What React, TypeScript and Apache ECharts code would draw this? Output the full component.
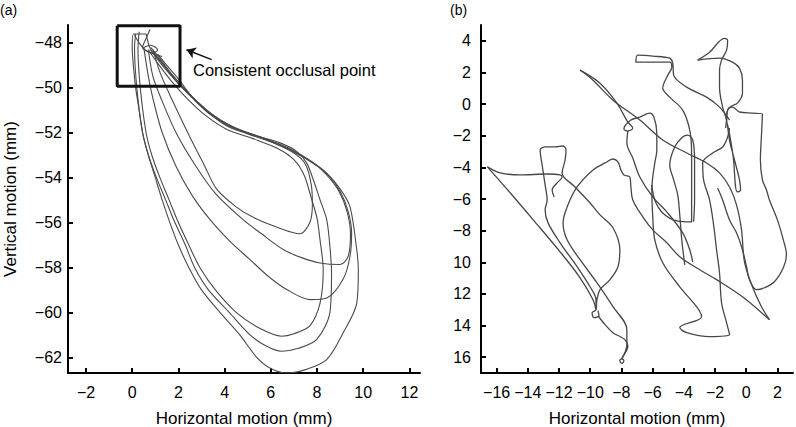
import React, { useEffect, useRef } from "react";
import * as echarts from "echarts";

// ---------- Panel (a): chewing cycles (horizontal mm, vertical mm) ----------
const loopA = [[0.6,-47.6],[0.05,-47.6],[0.0,-48.2],[0.05,-49],[0.15,-50],[0.3,-51],[0.45,-52],[0.7,-53],[1.0,-54],[1.3,-55],[1.63,-56],[2.0,-57],[2.45,-58],[3.0,-59],[3.8,-60],[4.66,-61],[5.39,-62],[6.0,-62.5],[6.7,-62.7],[7.5,-62.55],[8.42,-62.1],[9.14,-60.9],[9.72,-59.6],[9.79,-58.1],[9.72,-57.2],[9.43,-55.3],[9.0,-54.5],[8.42,-53.8],[7.84,-53.35],[6.83,-52.75],[5.5,-52.2],[4.3,-51.75],[3.3,-51.1],[2.5,-50.3],[1.8,-49.5],[1.2,-48.8],[0.8,-48.3],[0.6,-47.6]];
const loopB = [[0.15,-47.6],[0.1,-48.2],[0.2,-50],[0.45,-52],[0.7,-53],[1.05,-54],[1.45,-55],[1.85,-56],[2.3,-57],[2.7,-58],[3.3,-59],[4.2,-60],[5.1,-61],[5.8,-61.5],[6.47,-61.73],[7.2,-61.6],[7.99,-61.2],[8.56,-60],[8.63,-58.24],[8.56,-57.07],[8.42,-55.87],[8.13,-54.98],[7.84,-54.09],[7.55,-53.34],[7.12,-52.83],[6.4,-52.45],[5.3,-52.1],[4.2,-51.65],[3.3,-51.05],[2.5,-50.3],[1.8,-49.5],[1.2,-48.7],[0.8,-48.2]];
const loopC = [[0.3,-47.5],[0.25,-48.3],[0.35,-50],[0.6,-52],[0.85,-53],[1.2,-54],[1.6,-55],[2.0,-56],[2.45,-57],[2.93,-58],[3.6,-59],[4.5,-60],[5.5,-60.7],[6.47,-61.06],[7.0,-60.95],[7.69,-60.6],[8.13,-59.6],[8.27,-58.1],[8.13,-56.76],[8.0,-55.8],[7.75,-54.9],[7.45,-53.9],[7.0,-53.2],[6.3,-52.7],[5.2,-52.25],[4.1,-51.85],[3.2,-51.25],[2.4,-50.5],[1.7,-49.7],[1.1,-48.9],[0.7,-48.3]];
const loopD = [[0.5,-48.2],[0.7,-49.5],[0.91,-50.53],[1.3,-52],[1.9,-53.5],[2.6,-54.8],[3.37,-55.87],[4.2,-56.8],[5.1,-57.65],[5.9,-58.4],[6.69,-58.98],[7.69,-59.43],[8.42,-59.36],[9.14,-58.5],[9.43,-57.5],[9.5,-56.46],[9.35,-55.5],[9.0,-54.6],[8.5,-53.9],[7.9,-53.4],[6.9,-52.8],[5.8,-52.3],[4.6,-51.85],[3.6,-51.3],[2.8,-50.6],[2.0,-49.8],[1.3,-49.0],[0.8,-48.3]];
const loopE = [[0.7,-48.3],[0.9,-49.5],[1.3,-50.6],[1.9,-52],[2.7,-53.4],[3.6,-54.7],[4.8,-55.87],[5.6,-56.5],[6.54,-57.2],[7.3,-57.55],[8.13,-57.8],[9.0,-57.87],[9.35,-57.5],[9.45,-56.5],[9.3,-55.5],[8.95,-54.6],[8.4,-53.85],[7.8,-53.3],[6.7,-52.65],[5.6,-52.2],[4.4,-51.8],[3.4,-51.2],[2.6,-50.45],[1.9,-49.7],[1.3,-48.9],[0.9,-48.4]];
const loopF = [[0.9,-48.3],[1.2,-49.3],[1.71,-50.5],[2.5,-52.2],[3.1,-53.4],[3.65,-54.5],[4.5,-55.3],[5.3,-55.8],[6.25,-56.2],[7.26,-56.5],[7.69,-56.0],[7.8,-55.2],[7.75,-54.3],[7.5,-53.4],[7.0,-52.9],[6.0,-52.4],[5.0,-52.05],[4.1,-51.7],[3.3,-51.1],[2.6,-50.4],[2.0,-49.6],[1.5,-49.0],[1.1,-48.5]];
const zigA = [[0.1,-47.65],[0.3,-48.0],[0.55,-48.3],[0.9,-48.45],[1.1,-48.3],[0.8,-48.1],[0.5,-48.2]];
const zigB = [[0.77,-47.4],[0.6,-47.8],[0.45,-48.2],[0.7,-48.4],[1.3,-48.6]];
const boxA = [[-0.65,-47.23],[2.07,-47.23],[2.07,-49.93],[-0.65,-49.93],[-0.65,-47.23]];
const arrowA = [[3.44,-48.74],[2.35,-48.3]];

const xTicksA = [-2,0,2,4,6,8,10,12];
const yTicksA = [-62,-60,-58,-56,-54,-52,-50,-48];

// ---------- Panel (b): irregular path ----------
const pathB1 = [[-16.59,-3.97],[-15.76,-4.35],[-14.49,-4.48],[-12.76,-4.42],[-11.93,-4.48],[-11.80,-4.61],[-12.12,-4.98],[-12.44,-5.43],[-12.31,-5.87]];
const pathB2 = [[-16.59,-3.97],[-15.12,-5.62],[-13.65,-7.32],[-11.93,-9.34],[-10.65,-10.98],[-9.82,-12.37],[-9.63,-13.00]];
const pathB3 = [[-9.63,-13.00],[-9.63,-12.37],[-10.01,-11.55],[-10.84,-10.28],[-11.93,-8.77],[-12.70,-7.51],[-12.89,-6.69],[-12.76,-6.06],[-12.89,-5.11],[-13.08,-3.85],[-13.21,-2.90],[-12.89,-2.71],[-12.25,-2.71],[-11.74,-2.65],[-11.55,-2.90],[-11.61,-3.53],[-11.80,-4.35],[-10.97,-5.24],[-10.01,-6.25],[-9.37,-7.00],[-8.54,-7.82],[-8.10,-9.21],[-8.22,-10.28],[-8.73,-11.10],[-9.37,-11.73],[-9.57,-12.37],[-9.63,-13.00],[-9.88,-13.19],[-9.76,-13.50],[-9.44,-13.38],[-9.50,-13.06]];
const pathB4 = [[-9.50,-13.38],[-9.05,-13.94],[-8.54,-14.45],[-7.78,-14.89],[-7.59,-15.33],[-7.90,-15.96],[-7.97,-16.09],[-8.10,-16.21],[-7.97,-16.40],[-7.84,-16.21],[-7.97,-16.09]];
const pathB5 = [[-7.97,-16.09],[-7.65,-15.21],[-7.65,-14.26],[-8.54,-12.81],[-9.57,-11.29],[-10.65,-9.84],[-11.48,-8.58],[-11.74,-7.51],[-11.48,-6.50],[-10.84,-5.24],[-9.82,-4.16],[-9.05,-3.72],[-8.54,-3.47],[-8.22,-3.66],[-8.03,-4.16],[-7.84,-4.48],[-7.46,-4.61],[-7.39,-5.24],[-7.27,-6.06],[-6.63,-7.13],[-5.99,-7.95],[-5.09,-8.77],[-4.26,-9.65],[-2.98,-10.47],[-1.90,-11.10],[-0.24,-12.18],[1.49,-13.63]];
const pathB6 = [[-6.05,-5.11],[-5.86,-6.06],[-5.35,-6.88],[-4.45,-7.38],[-3.50,-7.44],[-3.50,-6.69],[-3.50,-5.43],[-3.50,-3.09],[-3.62,-1.64],[-4.07,-0.38],[-4.90,0.44],[-5.35,1.01],[-5.03,1.83],[-4.77,2.33],[-4.90,2.65],[-5.99,2.65],[-7.07,2.65],[-6.95,3.09],[-5.99,3.03],[-4.90,2.90],[-4.71,2.59],[-4.65,1.83],[-3.81,1.07],[-2.54,0.44],[-1.71,-0.19],[-1.07,-1.01]];
const pathB7 = [[-3.11,2.78],[-2.35,3.28],[-1.39,4.16],[-1.19,4.04],[-1.26,3.41],[-1.58,2.78],[-1.71,2.15],[-1.71,1.07],[-1.51,-0.19],[-1.26,-1.01],[-1.07,-2.27],[-0.75,-3.53],[-0.43,-4.79],[-0.36,-5.43],[-0.56,-5.55],[-0.68,-5.24],[-0.81,-3.53],[-1.00,-2.27],[-1.19,-1.32]];
const pathB8 = [[-3.11,2.78],[-1.71,2.90],[-0.88,2.65],[-0.43,2.27],[-0.24,1.51],[-0.24,0.69],[-0.56,0.06],[-0.94,-0.13],[-1.19,-0.38],[-1.26,-1.01],[-1.32,-1.51]];
const pathB9 = [[-1.26,-1.01],[-1.19,-0.38],[-0.94,-0.19],[-0.75,-0.25],[-0.43,-0.50],[0.40,-0.57],[1.04,-0.63],[0.98,-1.96],[0.91,-3.53],[1.04,-4.79],[1.30,-5.43],[1.49,-6.06],[2.00,-7.32],[2.38,-8.58],[2.58,-9.53],[2.38,-10.35],[1.81,-11.23],[1.17,-11.61],[0.66,-11.73],[0.21,-11.10],[0.02,-10.28],[-0.24,-9.21],[-0.62,-8.14],[-1.07,-7.32],[-1.51,-6.06],[-1.83,-5.30]];
const pathB10 = [[-10.65,2.15],[-9.37,1.32],[-8.29,0.06],[-7.59,-1.14],[-7.27,-1.51],[-7.59,-1.70],[-7.84,-1.58],[-7.39,-1.01],[-6.82,-0.82],[-6.18,-0.57],[-5.92,-0.82],[-5.73,-1.83],[-5.73,-2.90],[-5.86,-3.72],[-5.99,-4.61],[-6.05,-5.43],[-5.99,-7.13],[-5.86,-8.58],[-5.35,-10.03],[-4.26,-11.55],[-3.18,-12.81],[-2.86,-13.44],[-4.26,-14.13],[-3.81,-14.45],[-2.35,-14.70],[-1.07,-14.57],[-1.26,-13.82],[-1.58,-12.56],[-1.71,-10.66],[-1.90,-9.21],[-2.09,-7.63],[-2.35,-6.06],[-2.73,-4.79],[-2.79,-3.72],[-2.15,-3.09],[-1.51,-2.71],[-1.19,-2.08],[-1.07,-1.51]];
const pathB11 = [[-10.65,2.15],[-9.82,1.51],[-8.54,0.25],[-6.82,-1.01],[-5.35,-2.27],[-3.81,-3.09],[-2.54,-3.72],[-1.71,-4.35],[-1.07,-5.24],[-0.62,-6.37],[-0.30,-7.95],[-0.11,-9.97],[0.40,-11.55],[0.98,-12.81],[1.49,-13.63]];
const pathB12 = [[-3.94,-10.16],[-4.13,-8.58],[-4.26,-7.00],[-4.39,-5.74],[-4.65,-4.79],[-4.90,-3.85],[-4.58,-2.71],[-4.07,-2.08],[-3.75,-1.96],[-3.43,-2.27],[-3.31,-3.53],[-3.31,-6.06],[-3.37,-7.44]];
const pathB13 = [[-7.59,-1.70],[-7.65,-2.46],[-7.27,-3.41],[-6.82,-4.61],[-5.99,-5.87],[-5.09,-6.81],[-4.07,-8.14],[-3.62,-9.21],[-3.43,-9.97]];

const xTicksB = [-16,-14,-12,-10,-8,-6,-4,-2,0,2];
const yTicksB = [-16,-14,-12,-10,-8,-6,-4,-2,0,2,4];

const FONT = "'Liberation Sans', Arial, sans-serif";
const minus = (v: number) => (v < 0 ? "\u2212" + Math.abs(v) : String(v));
const yLabelB = (v: number) => (v <= -10 ? String(Math.abs(v)) : minus(v));

export default function App() {
  const ref = useRef<HTMLDivElement>(null);
  useEffect(() => {
    if (!ref.current) return;
    const chart = echarts.init(ref.current, null, { renderer: "svg" });
    const axisCommon = {
      axisLine: { onZero: false, lineStyle: { color: "#000", width: 2 } },
      axisTick: { inside: true, length: 5, lineStyle: { color: "#000", width: 2 } },
      splitLine: { show: false },
      nameTextStyle: { fontSize: 17, fontFamily: FONT, color: "#000" },
    };
    const lineA = (data: number[][]) => ({
      type: "line", xAxisIndex: 0, yAxisIndex: 0, data, showSymbol: false, symbol: "none",
      smooth: 0.3, lineStyle: { color: "#4a4a4a", width: 1.1 }, silent: true,
    });
    const lineB = (data: number[][]) => ({
      type: "line", xAxisIndex: 1, yAxisIndex: 1, data, showSymbol: false, symbol: "none",
      smooth: 0.35, lineStyle: { color: "#474747", width: 1.3 }, silent: true,
    });
    chart.setOption({
      animation: false,
      grid: [
        { left: 68, top: 25, width: 352, height: 348, containLabel: false, outerBoundsMode: "none" },
        { left: 481, top: 25, width: 312, height: 348, containLabel: false, outerBoundsMode: "none" },
      ],
      xAxis: [
        {
          type: "value", gridIndex: 0, min: -2.78, max: 12.46, ...axisCommon,
          axisTick: { ...axisCommon.axisTick, customValues: xTicksA },
          axisLabel: { customValues: xTicksA, formatter: minus, fontSize: 16, fontFamily: FONT, color: "#000", margin: 11 },
          name: "Horizontal motion (mm)", nameLocation: "middle", nameGap: 37,
        },
        {
          type: "value", gridIndex: 1, min: -17, max: 3, ...axisCommon,
          axisTick: { ...axisCommon.axisTick, customValues: xTicksB },
          axisLabel: { customValues: xTicksB, formatter: minus, fontSize: 16, fontFamily: FONT, color: "#000", margin: 11 },
          name: "Horizontal motion (mm)", nameLocation: "middle", nameGap: 37,
        },
      ],
      yAxis: [
        {
          type: "value", gridIndex: 0, min: -62.7, max: -47.2, ...axisCommon,
          axisTick: { ...axisCommon.axisTick, customValues: yTicksA },
          axisLabel: { customValues: yTicksA, formatter: minus, fontSize: 16, fontFamily: FONT, color: "#000", margin: 6 },
          name: "Vertical motion (mm)", nameLocation: "middle", nameGap: 49, nameRotate: 90,
        },
        {
          type: "value", gridIndex: 1, min: -17, max: 5, ...axisCommon,
          axisTick: { ...axisCommon.axisTick, customValues: yTicksB },
          axisLabel: { customValues: yTicksB, formatter: yLabelB, fontSize: 16, fontFamily: FONT, color: "#000", margin: 10 },
        },
      ],
      graphic: [
        { type: "text", left: 0, top: 3, style: { text: "(a)", fontSize: 14, fontFamily: FONT, fill: "#000" } },
        { type: "text", left: 450, top: 3, style: { text: "(b)", fontSize: 14, fontFamily: FONT, fill: "#000" } },
        { type: "text", left: 193, top: 61, style: { text: "Consistent occlusal point", fontSize: 16.5, fontFamily: FONT, fill: "#000" } },
      ],
      series: [
        lineA(loopA), lineA(loopB), lineA(loopC), lineA(loopD), lineA(loopE), lineA(loopF), lineA(zigA), lineA(zigB),
        {
          type: "line", xAxisIndex: 0, yAxisIndex: 0, data: boxA, showSymbol: false, symbol: "none",
          lineStyle: { color: "#111", width: 3 }, silent: true,
        },
        {
          type: "lines", coordinateSystem: "cartesian2d", xAxisIndex: 0, yAxisIndex: 0,
          data: [{ coords: arrowA }], symbol: ["none", "arrow"], symbolSize: 9,
          lineStyle: { color: "#111", width: 1.5, opacity: 1 }, silent: true,
        },
        lineB(pathB1), lineB(pathB2), lineB(pathB3), lineB(pathB4), lineB(pathB5), lineB(pathB6),
        lineB(pathB7), lineB(pathB8), lineB(pathB9), lineB(pathB10), lineB(pathB11), lineB(pathB12), lineB(pathB13),
      ],
    });
    return () => chart.dispose();
  }, []);
  return <div ref={ref} style={{ position: "fixed", left: 0, top: 0, width: 796, height: 427, background: "#fff" }} />;
}
